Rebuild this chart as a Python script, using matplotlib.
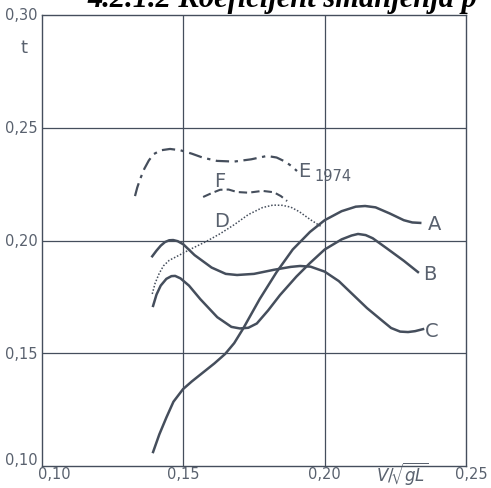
import matplotlib.pyplot as plt

# values (x = V/sqrt(gL), y = t)
a_x = [0.1393, 0.1415, 0.1440, 0.1465, 0.1499, 0.1530, 0.1570, 0.1610, 0.1648, 0.1680, 0.1711, 0.1770, 0.1830, 0.1887, 0.1948, 0.2000, 0.2060, 0.2110, 0.2143, 0.2180, 0.2230, 0.2280, 0.2310, 0.2338]
a_y = [0.1062, 0.1140, 0.1215, 0.1285, 0.1341, 0.1375, 0.1415, 0.1455, 0.1497, 0.1545, 0.1608, 0.1740, 0.1860, 0.1960, 0.2038, 0.2090, 0.2130, 0.2150, 0.2153, 0.2147, 0.2120, 0.2090, 0.2080, 0.2078]
b_x = [0.1393, 0.1405, 0.1420, 0.1440, 0.1458, 0.1471, 0.1490, 0.1520, 0.1560, 0.1620, 0.1670, 0.1700, 0.1730, 0.1760, 0.1800, 0.1842, 0.1900, 0.1948, 0.2000, 0.2060, 0.2095, 0.2118, 0.2145, 0.2170, 0.2220, 0.2280, 0.2330]
b_y = [0.1710, 0.1760, 0.1800, 0.1830, 0.1842, 0.1843, 0.1832, 0.1800, 0.1740, 0.1660, 0.1617, 0.1610, 0.1613, 0.1632, 0.1690, 0.1758, 0.1840, 0.1900, 0.1960, 0.2005, 0.2022, 0.2029, 0.2024, 0.2010, 0.1965, 0.1910, 0.1860]
c_x = [0.1390, 0.1405, 0.1420, 0.1435, 0.1450, 0.1464, 0.1480, 0.1500, 0.1540, 0.1600, 0.1650, 0.1690, 0.1750, 0.1820, 0.1880, 0.1913, 0.1950, 0.2000, 0.2050, 0.2100, 0.2150, 0.2200, 0.2235, 0.2267, 0.2295, 0.2320, 0.2348]
c_y = [0.1930, 0.1955, 0.1977, 0.1993, 0.2001, 0.2002, 0.1997, 0.1983, 0.1935, 0.1880, 0.1852, 0.1847, 0.1852, 0.1870, 0.1883, 0.1887, 0.1884, 0.1862, 0.1820, 0.1760, 0.1700, 0.1648, 0.1612, 0.1596, 0.1594, 0.1598, 0.1607]
d_x = [0.1390, 0.1400, 0.1415, 0.1430, 0.1450, 0.1478, 0.1523, 0.1580, 0.1630, 0.1680, 0.1730, 0.1780, 0.1817, 0.1850, 0.1880, 0.1910, 0.1950, 0.1990]
d_y = [0.1763, 0.1810, 0.1855, 0.1888, 0.1912, 0.1930, 0.1960, 0.1995, 0.2030, 0.2070, 0.2115, 0.2146, 0.2157, 0.2156, 0.2148, 0.2128, 0.2092, 0.2060]
e_x = [0.1329, 0.1337, 0.1348, 0.1362, 0.1378, 0.1395, 0.1420, 0.1453, 0.1490, 0.1530, 0.1570, 0.1619, 0.1680, 0.1740, 0.1796, 0.1830, 0.1860, 0.1885, 0.1902]
e_y = [0.2197, 0.2235, 0.2275, 0.2318, 0.2355, 0.2383, 0.2400, 0.2406, 0.2400, 0.2385, 0.2367, 0.2353, 0.2350, 0.2360, 0.2375, 0.2368, 0.2350, 0.2328, 0.2308]
f_x = [0.1570, 0.1600, 0.1630, 0.1660, 0.1690, 0.1730, 0.1780, 0.1820, 0.1845, 0.1867]
f_y = [0.2193, 0.2210, 0.2225, 0.2226, 0.2215, 0.2212, 0.2220, 0.2214, 0.2197, 0.2175]

labels = ["A", "B", "C", "D", "F"]
label_pos = [(0.2365, 0.2075), (0.2350, 0.1855), (0.2355, 0.1600), (0.1610, 0.2087), (0.1610, 0.2264)]

xticks = [0.10, 0.15, 0.20, 0.25]
yticks = [0.10, 0.15, 0.20, 0.25, 0.30]
tick_text = ["0,10", "0,15", "0,20", "0,25", "0,30"]

ink = "#454e5c"
txt = "#59616e"

fig = plt.figure(figsize=(4.91, 4.89), dpi=100)
ax = fig.add_axes([42 / 491, 1 - 467 / 489, 424 / 491, 451 / 489])
ax.set_xlim(0.10, 0.25)
ax.set_ylim(0.10, 0.30)

for v in [0.15, 0.20]:
    ax.axvline(v, color=ink, lw=0.9)
for v in [0.15, 0.20, 0.25]:
    ax.axhline(v, color=ink, lw=0.9)

ax.plot(a_x, a_y, color=ink, lw=1.8)
ax.plot(b_x, b_y, color=ink, lw=1.8)
ax.plot(c_x, c_y, color=ink, lw=1.8)
ax.plot(d_x, d_y, color=ink, lw=1.1, linestyle=(0, (1, 1.2)))
ax.plot(e_x, e_y, color=ink, lw=1.6, linestyle=(0, (6, 2.5, 1.5, 2.5)))
ax.plot(f_x, f_y, color=ink, lw=1.5, linestyle=(0, (4, 2)))

for lab, (lx, ly) in zip(labels, label_pos):
    ax.text(lx, ly, lab, fontsize=14, color=txt, va="center", ha="left")
ax.text(0.1905, 0.2310, "E", fontsize=14, color=txt, va="center", ha="left")
ax.text(0.1965, 0.2290, "1974", fontsize=10.5, color=txt, va="center", ha="left")

for s in ax.spines.values():
    s.set_color(ink)
    s.set_linewidth(1.0)
ax.set_xticks([])
ax.set_yticks([])

# tick labels placed like the original print
for v, t in zip(yticks, tick_text):
    off = 0.003 if v == 0.10 else 0.0
    ax.text(0.0985, v + off, t, fontsize=10.5, color=txt, ha="right", va="center")
for v, t in zip(xticks, tick_text):
    dx = 0.0045 if v == 0.10 else (0.0018 if v == 0.25 else 0.0)
    ax.text(v + dx, 0.0965, t, fontsize=10.5, color=txt, ha="center", va="center")
ax.text(0.0935, 0.286, "t", fontsize=13, color=txt, ha="center", va="center")
ax.text(0.2275, 0.0965, r"$V/\!\sqrt{gL}$", fontsize=12, color=txt, ha="center", va="center")

# heading of the scanned page, cut at the top edge as in the source
fig.text(87 / 491, 1 - 7 / 489, "4.2.1.2 Koeficijent smanjenja p", fontsize=22,
         family="Liberation Serif", weight="bold", style="italic", color="black",
         ha="left", va="baseline")

fig.savefig("out.png", dpi=100)
